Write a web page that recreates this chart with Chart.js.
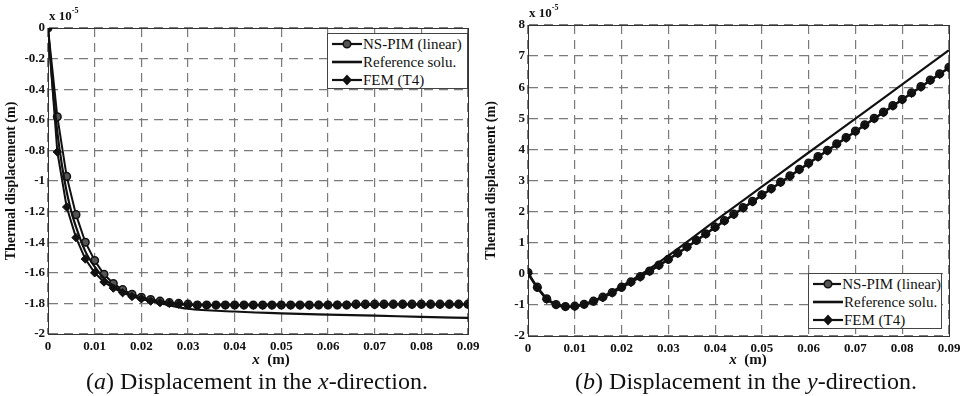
<!DOCTYPE html>
<html>
<head>
<meta charset="utf-8">
<script src="https://cdn.jsdelivr.net/npm/chart.js@4.4.1/dist/chart.umd.min.js"></script>
<style>
  body { margin: 0; background: #fff; width: 965px; height: 396px; position: relative; overflow: hidden;
         font-family: "Liberation Serif", "Times New Roman", serif; color: #111; }
  canvas { position: absolute; top: 0; }
  .legend { position: absolute; box-sizing: border-box; background: #fff; border: 1px solid #444;
            font-size: 15px; line-height: 18px; padding: 1px 0 0 4px; }
  .legend div { display: flex; align-items: center; white-space: nowrap; height: 18px; }
  .legend svg { margin-right: 1px; }
  .txt { position: absolute; white-space: nowrap; }
  .exp { position: absolute; font-size: 13px; font-weight: bold; white-space: nowrap; }
  .exp sup { font-size: 8px; position: relative; top: -2px; }
</style>
</head>
<body>
<canvas id="chartA" width="480" height="396" style="left:0"></canvas>
<canvas id="chartB" width="485" height="396" style="left:480px"></canvas>

<div class="exp" style="left:49px;top:8px">x 10<sup>-5</sup></div>
<div class="exp" style="left:529px;top:5px">x 10<sup>-5</sup></div>

<div class="legend" style="left:327px;top:33px;width:141px;height:56px">
  <div><svg width="30" height="12"><line x1="0" y1="6" x2="30" y2="6" stroke="#111" stroke-width="2.2"/><circle cx="15" cy="6" r="3.8" fill="#555" stroke="#111" stroke-width="1.5"/></svg>NS-PIM (linear)</div>
  <div><svg width="30" height="12"><line x1="0" y1="6" x2="30" y2="6" stroke="#111" stroke-width="2.6"/></svg>Reference solu.</div>
  <div><svg width="30" height="12"><line x1="0" y1="6" x2="30" y2="6" stroke="#111" stroke-width="2.2"/><polygon points="15,0.5 20,6 15,11.5 10,6" fill="#111"/></svg>FEM (T4)</div>
</div>
<div class="legend" style="left:808px;top:273px;width:134px;height:56px">
  <div><svg width="30" height="12"><line x1="0" y1="6" x2="30" y2="6" stroke="#111" stroke-width="2.2"/><circle cx="15" cy="6" r="3.8" fill="#555" stroke="#111" stroke-width="1.5"/></svg>NS-PIM (linear)</div>
  <div><svg width="30" height="12"><line x1="0" y1="6" x2="30" y2="6" stroke="#111" stroke-width="2.6"/></svg>Reference solu.</div>
  <div><svg width="30" height="12"><line x1="0" y1="6" x2="30" y2="6" stroke="#111" stroke-width="2.2"/><polygon points="15,0.5 20,6 15,11.5 10,6" fill="#111"/></svg>FEM (T4)</div>
</div>

<div class="txt" style="left:271px;top:351px;font-size:15px;font-weight:bold;transform:translateX(-50%)"><i>x</i>&nbsp; (m)</div>
<div class="txt" style="left:748px;top:351px;font-size:15px;font-weight:bold;transform:translateX(-50%)"><i>x</i>&nbsp; (m)</div>
<div class="txt" style="left:257px;top:368px;font-size:24px;transform:translateX(-50%)">(<i>a</i>) Displacement in the <i>x</i>-direction.</div>
<div class="txt" style="left:746px;top:368px;font-size:24px;transform:translateX(-50%)">(<i>b</i>) Displacement in the <i>y</i>-direction.</div>

<script>
// sample positions (m) of the nodal results
const xNodes = [
  0, 0.002, 0.004, 0.006, 0.008, 0.010, 0.012, 0.014, 0.016, 0.018,
  0.020, 0.022, 0.024, 0.026, 0.028, 0.030, 0.032, 0.034, 0.036, 0.038,
  0.040, 0.042, 0.044, 0.046, 0.048, 0.050, 0.052, 0.054, 0.056, 0.058,
  0.060, 0.062, 0.064, 0.066, 0.068, 0.070, 0.072, 0.074, 0.076, 0.078,
  0.080, 0.082, 0.084, 0.086, 0.088, 0.090
];

// (a) x-direction, values x 1e-5 m
const nsPimA = [
  0, -0.58, -0.97, -1.22, -1.40, -1.52, -1.61, -1.67, -1.71, -1.74,
  -1.76, -1.775, -1.785, -1.795, -1.80, -1.805, -1.81, -1.81, -1.81, -1.81,
  -1.81, -1.81, -1.81, -1.81, -1.81, -1.81, -1.81, -1.81, -1.81, -1.81,
  -1.81, -1.81, -1.81, -1.805, -1.805, -1.805, -1.805, -1.805, -1.805, -1.805,
  -1.805, -1.805, -1.805, -1.805, -1.805, -1.805
];
const femA = [
  0, -0.81, -1.17, -1.37, -1.51, -1.60, -1.66, -1.70, -1.73, -1.755,
  -1.77, -1.785, -1.795, -1.80, -1.805, -1.81, -1.812, -1.812, -1.812, -1.812,
  -1.812, -1.812, -1.812, -1.812, -1.812, -1.812, -1.812, -1.812, -1.812, -1.81,
  -1.81, -1.81, -1.81, -1.81, -1.81, -1.81, -1.808, -1.808, -1.808, -1.808,
  -1.808, -1.808, -1.808, -1.808, -1.808, -1.808
];
const refXA = [0, 0.001, 0.002, 0.003, 0.004, 0.005, 0.006, 0.008, 0.010, 0.012, 0.014, 0.016, 0.018, 0.020, 0.025, 0.030, 0.040, 0.050, 0.060, 0.070, 0.080, 0.090];
const refA = [0, -0.38, -0.68, -0.90, -1.07, -1.20, -1.30, -1.46, -1.56, -1.635, -1.685, -1.72, -1.75, -1.77, -1.805, -1.835, -1.853, -1.865, -1.873, -1.88, -1.888, -1.895];

// (b) y-direction, values x 1e-5 m
const nsPimB = [
  0.04, -0.43, -0.80, -0.99, -1.05, -1.04, -0.98, -0.88, -0.75, -0.60,
  -0.43, -0.26, -0.09, 0.09, 0.28, 0.47, 0.67, 0.87, 1.08, 1.29,
  1.50, 1.71, 1.92, 2.13, 2.33, 2.54, 2.74, 2.95, 3.15, 3.36,
  3.56, 3.77, 3.97, 4.18, 4.38, 4.59, 4.79, 5.00, 5.20, 5.41,
  5.61, 5.82, 6.02, 6.23, 6.43, 6.64
];
const femB = [
  0.02, -0.45, -0.82, -1.00, -1.06, -1.05, -0.99, -0.89, -0.77, -0.62,
  -0.45, -0.28, -0.11, 0.07, 0.26, 0.45, 0.65, 0.85, 1.06, 1.27,
  1.48, 1.69, 1.90, 2.11, 2.31, 2.52, 2.72, 2.93, 3.13, 3.34,
  3.54, 3.75, 3.95, 4.16, 4.36, 4.57, 4.77, 4.98, 5.18, 5.39,
  5.59, 5.80, 6.00, 6.21, 6.41, 6.62
];
const refXB = [0, 0.002, 0.004, 0.006, 0.008, 0.009, 0.010, 0.012, 0.014, 0.016, 0.018, 0.020, 0.025, 0.030, 0.040, 0.050, 0.060, 0.070, 0.080, 0.090];
const refB = [0, -0.45, -0.82, -1.00, -1.06, -1.065, -1.05, -0.98, -0.87, -0.73, -0.57, -0.40, 0.06, 0.58, 1.70, 2.80, 3.90, 4.99, 6.09, 7.19];

const xTicks = [0, 0.01, 0.02, 0.03, 0.04, 0.05, 0.06, 0.07, 0.08, 0.09];
const yTicksA = [-2, -1.8, -1.6, -1.4, -1.2, -1, -0.8, -0.6, -0.4, -0.2, 0];
const yTicksB = [-2, -1, 0, 1, 2, 3, 4, 5, 6, 7, 8];

const FONT = '"Liberation Serif", "Times New Roman", serif';

const pairs = (xs, ys) => xs.map((x, i) => ({ x: x, y: ys[i] }));

const frame = {
  id: 'frame',
  beforeDatasetsDraw(chart) {
    const { ctx, chartArea: a } = chart;
    ctx.save();
    ctx.strokeStyle = '#333';
    ctx.lineWidth = 1;
    ctx.strokeRect(Math.round(a.left) + 0.5, Math.round(a.top) + 0.5, Math.round(a.right - a.left), Math.round(a.bottom - a.top));
    ctx.restore();
  }
};

function makeChart(id, ns, fem, refX, ref, yTicks, pad, xHeight) {
  return new Chart(document.getElementById(id), {
    type: 'line',
    data: {
      datasets: [
        { label: 'NS-PIM (linear)', data: pairs(xNodes, ns), borderColor: '#111', borderWidth: 2,
          pointStyle: 'circle', pointRadius: 3.8, pointBackgroundColor: '#555', pointBorderColor: '#111', pointBorderWidth: 1.5, order: 2 },
        { label: 'Reference solu.', data: pairs(refX, ref), borderColor: '#111', borderWidth: 2.2,
          pointRadius: 0, cubicInterpolationMode: 'monotone', order: 1 },
        { label: 'FEM (T4)', data: pairs(xNodes, fem), borderColor: '#111', borderWidth: 2,
          pointStyle: 'rectRot', pointRadius: 4.2, pointBackgroundColor: '#111', pointBorderColor: '#111', pointBorderWidth: 1, order: 0 }
      ]
    },
    options: {
      responsive: false,
      animation: false,
      layout: { padding: pad },
      plugins: { legend: { display: false }, tooltip: { enabled: false } },
      scales: {
        x: {
          type: 'linear', min: 0, max: 0.09,
          afterBuildTicks: s => { s.ticks = xTicks.map(v => ({ value: v })); },
          afterFit: s => { s.height = xHeight; s.paddingLeft = 0; s.paddingRight = 0; },
          ticks: { callback: v => String(v), color: '#111', padding: 5, maxRotation: 0, autoSkip: false,
                   font: { family: FONT, size: 13, weight: 'bold' } },
          grid: { color: '#7a7a7a', lineWidth: 1.2, drawTicks: false },
          border: { display: true, color: '#333', width: 1, dash: [9, 6] }
        },
        y: {
          type: 'linear', min: yTicks[0], max: yTicks[yTicks.length - 1],
          afterBuildTicks: s => { s.ticks = yTicks.map(v => ({ value: v })); },
          afterFit: s => { s.width = 48; s.paddingTop = 0; s.paddingBottom = 0; },
          ticks: { callback: v => String(v), color: '#111', padding: 3, autoSkip: false,
                   font: { family: FONT, size: 13, weight: 'bold' } },
          grid: { color: '#7a7a7a', lineWidth: 1.2, drawTicks: false },
          border: { display: true, color: '#333', width: 1, dash: [9, 6] },
          title: { display: true, text: 'Thermal displacement (m)', color: '#111',
                   font: { family: FONT, size: 14, weight: 'bold' }, padding: { top: 3, bottom: 0 } }
        }
      }
    },
    plugins: [frame]
  });
}

makeChart('chartA', nsPimA, femA, refXA, refA, yTicksA, { top: 28, right: 12, left: 0, bottom: 0 }, 62);
makeChart('chartB', nsPimB, femB, refXB, refB, yTicksB, { top: 25, right: 16, left: 0, bottom: 0 }, 60);
</script>
</body>
</html>
